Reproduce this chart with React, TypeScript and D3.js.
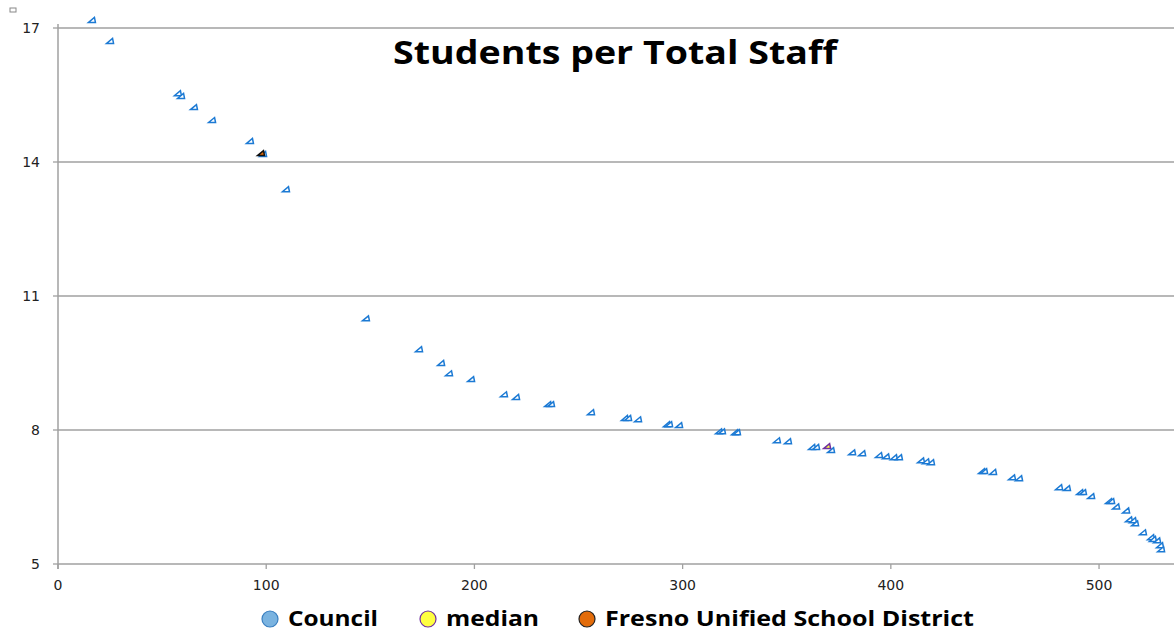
import React from "react";
import * as d3 from "d3";

const councilX = [16.3, 25.0, 57.6, 59.1, 65.3, 74.0, 92.2, 98.5, 109.5, 147.9, 173.4, 184.0, 187.8, 198.4, 214.2, 220.0, 235.4, 236.8, 256.0, 272.3, 273.8, 278.6, 292.5, 293.5, 298.3, 317.5, 318.9, 325.2, 326.1, 345.3, 350.6, 362.2, 364.1, 371.3, 381.4, 386.2, 394.3, 397.7, 401.5, 403.9, 414.5, 416.9, 419.3, 443.8, 444.8, 449.1, 458.2, 461.6, 480.8, 484.6, 490.9, 492.3, 496.2, 504.8, 505.8, 508.2, 513.0, 514.4, 516.3, 517.3, 521.1, 525.0, 525.9, 527.9, 529.3, 529.8];
const councilY = [17.18, 16.71, 15.54, 15.48, 15.23, 14.94, 14.47, 14.18, 13.39, 10.5, 9.81, 9.5, 9.27, 9.14, 8.8, 8.74, 8.58, 8.58, 8.4, 8.27, 8.27, 8.24, 8.13, 8.13, 8.11, 7.97, 7.97, 7.95, 7.95, 7.77, 7.75, 7.62, 7.62, 7.55, 7.5, 7.48, 7.44, 7.41, 7.39, 7.39, 7.32, 7.3, 7.28, 7.08, 7.08, 7.06, 6.94, 6.92, 6.72, 6.7, 6.61, 6.61, 6.52, 6.41, 6.41, 6.29, 6.2, 6.0, 5.98, 5.91, 5.71, 5.6, 5.56, 5.53, 5.42, 5.33];
const medianX = [369.4];
const medianY = [7.64];
const fresnoX = [97.5];
const fresnoY = [14.2];
const yTicks = [5, 8, 11, 14, 17];
const xTicks = [0, 100, 200, 300, 400, 500];
const legendLabels = ["Council", "median", "Fresno Unified School District"];

const W = 1174;
const H = 633;
const FONT = "'Open Sans', 'DejaVu Sans', sans-serif";
const TICKFONT = "'DejaVu Sans', sans-serif";

export default function App() {
  const x = d3.scaleLinear().domain([0, 536]).range([58, 1174]);
  const y = d3.scaleLinear().domain([5, 17]).range([564, 28]);
  const tri = "M-3.5,2.5 L3.5,2.5 L2.5,-2.5 Z";

  const legendX = [270, 428, 587];
  const legendLen = [90, 93, 369];
  const legendFill = ["#7ab3e0", "#ffff40", "#e36c0a"];
  const legendStroke = ["#3a7fc0", "#7030a0", "#222222"];

  return (
    <svg width={W} height={H} style={{ position: "absolute", left: 0, top: 0, background: "#fff" }}>
      <rect x={10} y={8} width={6} height={4} fill="none" stroke="#888" strokeWidth={1} />
      {yTicks.filter((t) => t !== 5).map((t) => (
        <line key={"g" + t} x1={x(0)} x2={W} y1={y(t)} y2={y(t)} stroke="#a0a0a0" strokeWidth={1.3} />
      ))}
      <line x1={x(0)} x2={x(0)} y1={24} y2={569} stroke="#a0a0a0" strokeWidth={1.5} />
      <line x1={x(0)} x2={W} y1={y(5)} y2={y(5)} stroke="#a0a0a0" strokeWidth={1.3} />
      {yTicks.map((t) => (
        <g key={"y" + t}>
          <line x1={x(0) - 5} x2={x(0)} y1={y(t)} y2={y(t)} stroke="#a0a0a0" strokeWidth={1.3} />
          <text x={40} y={y(t)} dy="0.36em" textAnchor="end" fontFamily={TICKFONT} fontSize={14} fill="#222">{t}</text>
        </g>
      ))}
      {xTicks.map((t) => (
        <g key={"x" + t}>
          <line x1={x(t)} x2={x(t)} y1={y(5)} y2={y(5) + 5} stroke="#a0a0a0" strokeWidth={1.3} />
          <text x={x(t)} y={590} textAnchor="middle" fontFamily={TICKFONT} fontSize={14} fill="#222">{t}</text>
        </g>
      ))}
      <text x={393} y={64} textLength={444} lengthAdjust="spacingAndGlyphs" fontFamily={FONT} fontWeight="bold" fontSize={32} fill="#000">Students per Total Staff</text>
      {councilX.map((v, i) => (
        <path key={"c" + i} d={tri} transform={`translate(${x(v)},${y(councilY[i])})`} fill="#fff" stroke="#1c7ad4" strokeWidth={1.5} />
      ))}
      {medianX.map((v, i) => (
        <path key={"m" + i} d={tri} transform={`translate(${x(v)},${y(medianY[i])})`} fill="#ffff40" stroke="#7030a0" strokeWidth={1.5} />
      ))}
      {fresnoX.map((v, i) => (
        <path key={"f" + i} d={tri} transform={`translate(${x(v)},${y(fresnoY[i])})`} fill="#e36c0a" stroke="#111" strokeWidth={1.5} />
      ))}
      {legendLabels.map((l, i) => (
        <g key={"l" + i}>
          <circle cx={legendX[i]} cy={619} r={8} fill={legendFill[i]} stroke={legendStroke[i]} strokeWidth={1.2} />
          <text x={legendX[i] + 18} y={626} textLength={legendLen[i]} lengthAdjust="spacingAndGlyphs" fontFamily={FONT} fontWeight="bold" fontSize={22} fill="#000">{l}</text>
        </g>
      ))}
    </svg>
  );
}
